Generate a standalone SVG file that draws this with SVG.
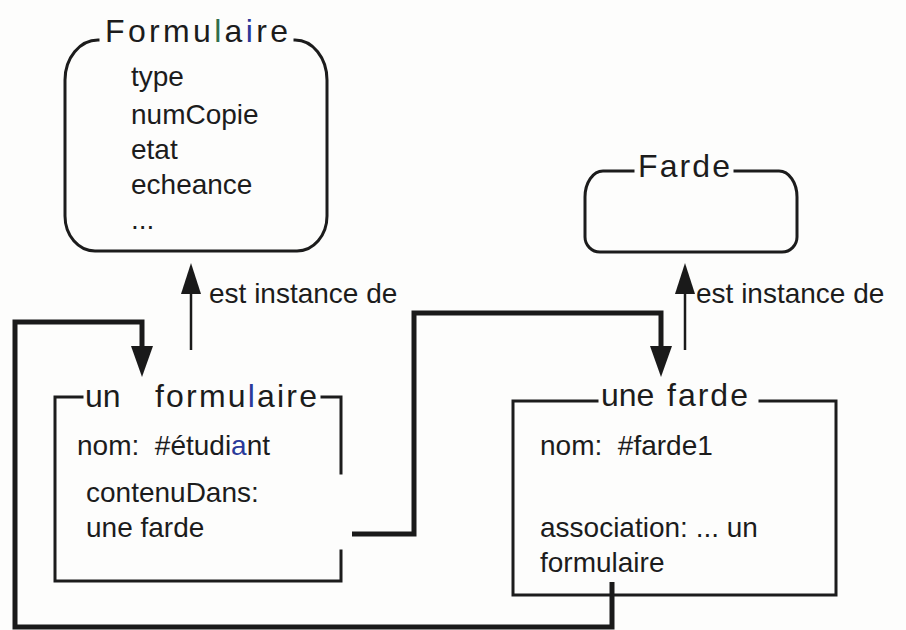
<svg xmlns="http://www.w3.org/2000/svg" width="906" height="630" viewBox="0 0 906 630">
<style>
.box{fill:none;stroke:#1c1c1c;stroke-width:3;stroke-linecap:square;stroke-linejoin:miter}
.t{font-family:"Liberation Sans",Arial,sans-serif;font-size:28px;fill:#1c1c1c}
.title{font-family:"Liberation Sans",Arial,sans-serif;font-size:32px;fill:#1c1c1c}
.thick{fill:none;stroke:#1a1a1a;stroke-width:5;stroke-linejoin:miter}
.thin{fill:none;stroke:#1a1a1a;stroke-width:2.5}
.head{fill:#1a1a1a}
</style>
<rect width="906" height="630" fill="#fdfdfc"/>
<g id="node-formulaire">
<path class="box" d="M 98 40 A 33 40 0 0 0 65 80 L 65 216 A 30 35 0 0 0 95 251 L 297 251 A 30 35 0 0 0 327 216 L 327 80 A 32 40 0 0 0 295 40"/>
<text class="title" x="105" y="42" textLength="183" lengthAdjust="spacing">Formu<tspan fill="#2f6e4a">l</tspan>a<tspan fill="#2a3a9a">i</tspan>re</text>
<text class="t" x="131" y="86">type</text>
<text class="t" x="131" y="124">numCopie</text>
<text class="t" x="131" y="159">etat</text>
<text class="t" x="131" y="194">echeance</text>
<text class="t" x="131" y="229">...</text>
</g>
<g id="node-farde">
<path class="box" d="M 633 171 L 603 171 A 18 26 0 0 0 585 197 L 585 237 A 15 15 0 0 0 600 252 L 782 252 A 15 15 0 0 0 797 237 L 797 197 A 18 26 0 0 0 779 171 L 735 171"/>
<text class="title" x="638" y="177" font-size="30" textLength="92" lengthAdjust="spacing">Farde</text>
</g>
<g id="node-un-formulaire">
<path class="box" d="M 82 397 L 55 397 L 55 581 L 341 581 L 341 551"/>
<path class="box" d="M 322 397 L 341 397 L 341 473"/>
<text class="title" x="85" y="407">un</text>
<text class="title" x="155" y="407" textLength="162" lengthAdjust="spacing">formu<tspan fill="#2a3a9a">l</tspan>aire</text>
<text class="t" x="77" y="455" xml:space="preserve">nom:  #étudi<tspan fill="#2a3a9a">a</tspan>nt</text>
<text class="t" x="86" y="502">contenuDans:</text>
<text class="t" x="86" y="537">une farde</text>
</g>
<g id="node-une-farde">
<path class="box" d="M 597 401 L 513 401 L 513 595 L 836 595 L 836 401 L 760 401"/>
<text class="title" x="601" y="406">une</text>
<text class="title" x="667" y="406" letter-spacing="2">farde</text>
<text class="t" x="540" y="455" xml:space="preserve">nom:  #farde1</text>
<text class="t" x="540" y="537">association: ... un</text>
<text class="t" x="540" y="572">formulaire</text>
</g>
<g id="connectors">
<path class="thin" stroke="#4a1a24" d="M 191 350 L 191 288"/>
<polygon class="head" points="191,263 181,294 201,294"/>
<text class="t" x="209" y="303">est instance de</text>
<path class="thin" d="M 685 350 L 685 288"/>
<polygon class="head" points="685,263 675,294 695,294"/>
<text class="t" x="696" y="303">est instance de</text>
<path class="thick" d="M 612 582 L 612 627 L 15 627 L 15 322 L 142 322 L 142 350"/>
<polygon class="head" points="142,377 131,346 153,346"/>
<path class="thick" stroke-width="6" d="M 352 534 L 414 534 L 414 313 L 661 313 L 661 350"/>
<polygon class="head" points="661,377 650,346 672,346"/>
</g>
</svg>
